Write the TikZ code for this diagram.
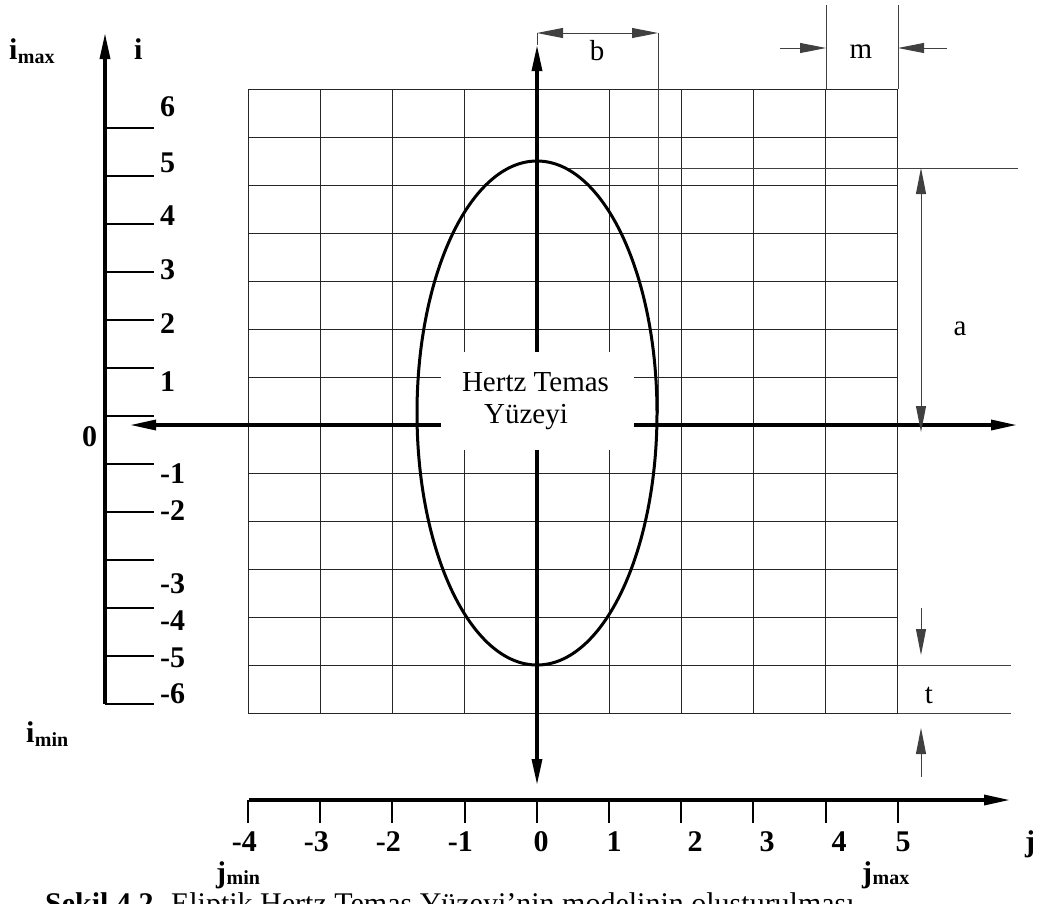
\documentclass[tikz,border=0pt]{standalone}
\usepackage{fontspec}
\setmainfont{Liberation Serif}
\usetikzlibrary{arrows.meta}
\begin{document}
\begin{tikzpicture}[x=1pt,y=-1pt,
  >={Triangle[length=26pt,width=10pt]},
  axisline/.style={line width=3.3pt,black},
  tickline/.style={line width=2pt,black},
  gridline/.style={line width=1pt,black!85},
  dimline/.style={line width=0.9pt,black!75},
  ellipseline/.style={line width=3pt,black},
  num/.style={font=\fontsize{30}{30}\selectfont\bfseries,inner sep=0pt},
  lbl/.style={font=\fontsize{29}{29}\selectfont,inner sep=0pt},
  subl/.style={font=\fontsize{20}{20}\selectfont\bfseries,inner sep=0pt}
]
\useasboundingbox (0,0) rectangle (1039,903);

% grid
\foreach \k in {0,...,9} \draw[gridline] ({248+72.2*\k},89) -- ({248+72.2*\k},713);
\foreach \r in {0,...,13} \draw[gridline] (248,{89+48*\r}) -- (898,{89+48*\r});

% named coordinates
\coordinate (ctop) at (537,45);
\coordinate (cbot) at (537,785);
\coordinate (hl) at (130,425);
\coordinate (hr) at (1017,425);
\coordinate (lax0) at (105,704);
\coordinate (lax1) at (105,33);
\coordinate (bax0) at (249,800);
\coordinate (bax1) at (1010,800);

% extension lines
\coordinate (bL) at (537,33);
\coordinate (bR) at (658,33);
\coordinate (bRlow) at (658,413);
\draw[dimline] (bL) -- (ctop);
\draw[dimline] (bR) -- (bRlow);
\coordinate (mL) at (826,5);
\coordinate (mLlow) at (826,89);
\coordinate (mR) at (898,5);
\coordinate (mRlow) at (898,89);
\draw[dimline] (mL) -- (mLlow);
\draw[dimline] (mR) -- (mRlow);
\coordinate (aL) at (567,168);
\coordinate (aR) at (1018,168);
\draw[dimline] (aL) -- (aR);
\coordinate (t1L) at (898,665);
\coordinate (t1R) at (1011,665);
\coordinate (t2L) at (898,713);
\coordinate (t2R) at (1011,713);
\draw[dimline] (t1L) -- (t1R);
\draw[dimline] (t2L) -- (t2R);

% ellipse
\draw[ellipseline] (537,413) ellipse [x radius=120, y radius=252];

% axes
\draw[axisline,<->] (cbot) -- (ctop);
\draw[axisline,<->] (hl) -- (hr);
\draw[axisline,->] (lax0) -- (lax1);
\draw[axisline,->] (bax0) -- (bax1);

% left ticks
\foreach \r in {0,...,12} \draw[tickline] (105,{128+48*\r}) -- (154,{128+48*\r});
% bottom ticks
\foreach \k in {0,...,9} \draw[tickline] ({248+72.2*\k},800) -- ({248+72.2*\k},823);

% label box
\node[fill=white,minimum width=193pt,minimum height=98pt,inner sep=0pt] (box) at (537.5,401) {};
\node[lbl,anchor=base] (hz1) at (535.5,391) {Hertz Temas};
\node[lbl,anchor=base] (hz2) at (526,423) {Yüzeyi};

% left labels
\foreach \v/\yy in {6/116,5/172,4/225,3/279,2/333,1/391,-1/483,-2/520,-3/593,-4/630,-5/667,-6/703}
  \node[num,anchor=base west] at (160,\yy) {\v};
\node[num,anchor=base west] (zero) at (82,446) {0};

% bottom labels
\foreach \v/\xx in {-4/257,-3/329,-2/401,-1/473}
  \node[num,anchor=base east] at (\xx,851) {\v};
\foreach \v/\xx in {0/541,1/614,2/695,3/767,4/839,5/903}
  \node[num,anchor=base] at (\xx,851) {\v};
\node[num,anchor=base] (jlab) at (1030,851) {j};

% axis names
\node[num,anchor=base west] (ilab) at (134,59) {i};
\node[num,anchor=base west] (imaxi) at (9,59) {i};
\node[subl,anchor=base west] (imaxs) at (imaxi.base east) [yshift=-4pt] {max};
\node[num,anchor=base west] (imini) at (26,742) {i};
\node[subl,anchor=base west] (imins) at (imini.base east) [yshift=-4pt] {min};
\node[num,anchor=base west] (jmini) at (216,882) {j};
\node[subl,anchor=base west] (jmins) at (jmini.base east) [yshift=-2pt] {min};
\node[num,anchor=base west] (jmaxi) at (862,882) {j};
\node[subl,anchor=base west] (jmaxs) at (jmaxi.base east) [yshift=-2pt] {max};

% dimensions
\draw[dimline,<->] (bL) -- (bR);
\node[lbl,anchor=base] (blab) at (597,60) {b};
\coordinate (m1a) at (780,48);
\coordinate (m1b) at (826,48);
\coordinate (m2a) at (947,48);
\coordinate (m2b) at (898,48);
\draw[dimline,->] (m1a) -- (m1b);
\draw[dimline,->] (m2a) -- (m2b);
\node[lbl,anchor=base] (mlab) at (861,58) {m};
\coordinate (a1) at (921,168);
\coordinate (a2) at (921,432);
\draw[dimline,<->] (a1) -- (a2);
\node[lbl,anchor=base] (alab) at (960,335) {a};
\coordinate (ta1) at (921,608);
\coordinate (ta2) at (921,655);
\coordinate (tb1) at (921,777);
\coordinate (tb2) at (921,728);
\draw[dimline,->] (ta1) -- (ta2);
\draw[dimline,->] (tb1) -- (tb2);
\node[lbl,anchor=base] (tlab) at (929,703) {t};

% caption (cut off at bottom edge, as in the reference)
\begin{scope}
\clip (0,0) rectangle (1039,903);
\node[anchor=base west,inner sep=0pt,font=\fontsize{30}{30}\selectfont] (cap) at (45,913) {\textbf{Şekil 4.2.} Eliptik Hertz Temas Yüzeyi'nin modelinin oluşturulması};
\end{scope}
\end{tikzpicture}
\end{document}
